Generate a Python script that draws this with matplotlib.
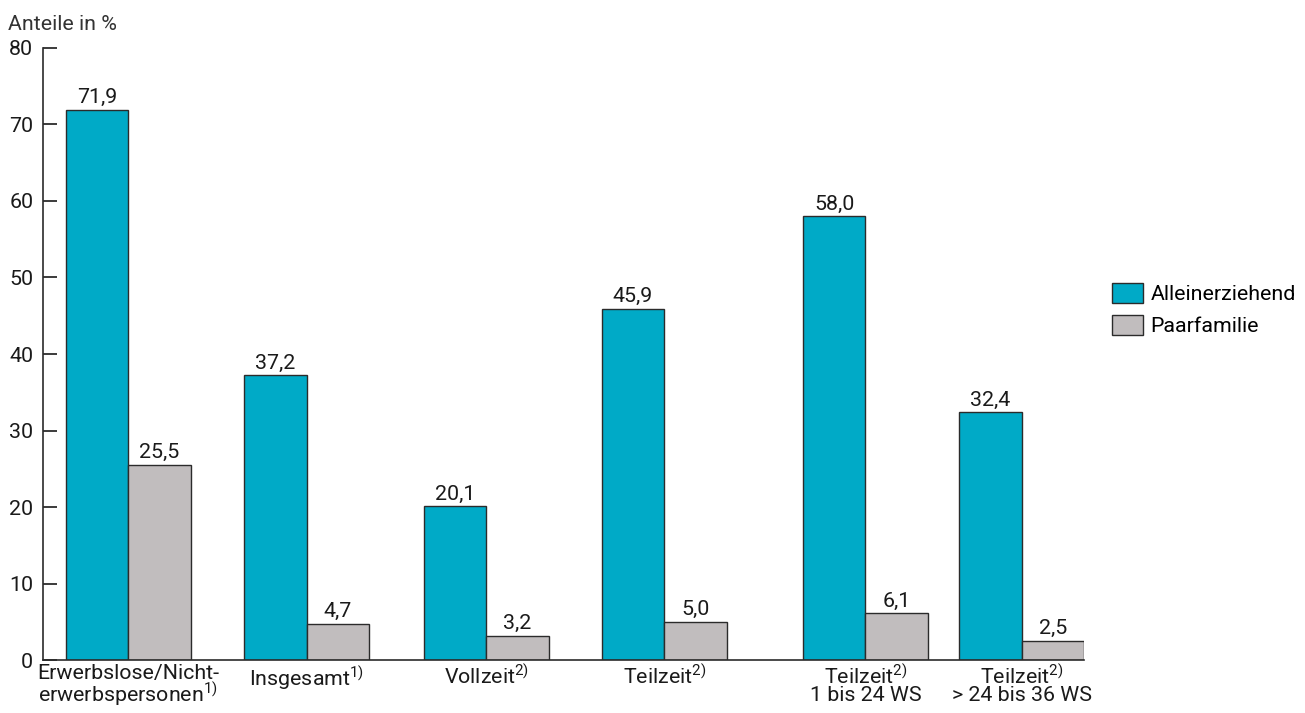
import numpy as np
import matplotlib.pyplot as plt

plt.rcParams['font.family'] = ['Roboto', 'DejaVu Sans']
plt.rcParams['mathtext.fontset'] = 'custom'
plt.rcParams['mathtext.rm'] = 'Roboto'
plt.rcParams['mathtext.default'] = 'regular'

# Data
categories = ["Erwerbslose/Nicht-\nerwerbspersonen$^{1)}$", "Insgesamt$^{1)}$",
              "Vollzeit$^{2)}$", "Teilzeit$^{2)}$",
              "Teilzeit$^{2)}$\n1 bis 24 WS", "Teilzeit$^{2)}$\n> 24 bis 36 WS"]
alleinerziehend = [71.9, 37.2, 20.1, 45.9, 58.0, 32.4]
paarfamilie = [25.5, 4.7, 3.2, 5.0, 6.1, 2.5]

# group centres (uneven spacing as in the original)
pos = np.array([0, 2.86, 5.73, 8.58, 11.8, 14.3])
w = 1.0
fs = 15.4

fig = plt.figure(figsize=(13.05, 7.13), dpi=100)
ax = fig.add_axes([0.033, 0.0743, 0.7977, 0.8584])

b1 = ax.bar(pos - w / 2, alleinerziehend, w, color='#00aac7', edgecolor='#2b2b2b',
            linewidth=1, label='Alleinerziehend')
b2 = ax.bar(pos + w / 2, paarfamilie, w, color='#c1bdbe', edgecolor='#2b2b2b',
            linewidth=1, label='Paarfamilie')

for bars, vals in [(b1, alleinerziehend), (b2, paarfamilie)]:
    for r, v in zip(bars, vals):
        ax.text(r.get_x() + r.get_width() / 2, v + 0.35, f"{v:.1f}".replace('.', ','),
                ha='center', va='bottom', fontsize=fs, color='#1a1a1a')

ax.set_xlim(-1.36, 15.3)
ax.set_ylim(0, 80)
ax.set_yticks(range(0, 81, 10))
ax.set_xticks(pos)
ax.set_xticklabels(categories, fontsize=fs, linespacing=0.85, color='#1a1a1a')
ax.tick_params(axis='x', length=0, pad=3)
ax.tick_params(axis='y', direction='in', length=10, width=1.2, labelsize=fs,
               pad=7, colors='#1a1a1a')

for s in ['top', 'right']:
    ax.spines[s].set_visible(False)
ax.spines['left'].set_linewidth(1.2)
ax.spines['bottom'].set_linewidth(1.2)
ax.spines['left'].set_color('#2b2b2b')
ax.spines['bottom'].set_color('#2b2b2b')

fig.text(0.006, 0.952, "Anteile in %", fontsize=fs, color='#333333', va='bottom')

ax.legend(loc='upper left', bbox_to_anchor=(0.852, 0.603), bbox_transform=fig.transFigure,
          frameon=False, fontsize=fs, handlelength=1.45, handleheight=1.05,
          handletextpad=0.35, labelspacing=0.5, borderaxespad=0, borderpad=0)

fig.savefig('out.png', dpi=100)
